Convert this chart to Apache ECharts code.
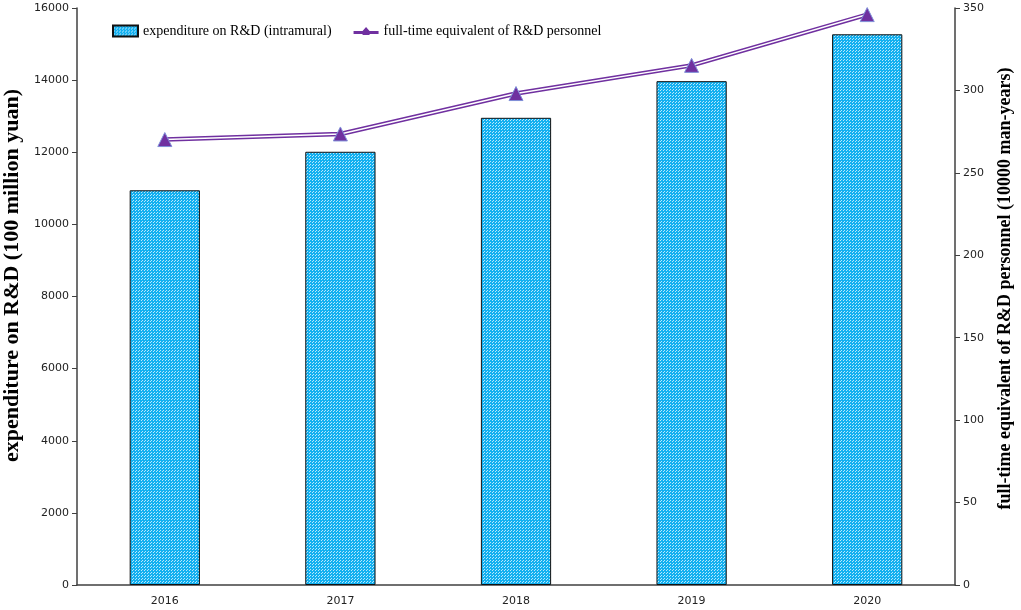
<!DOCTYPE html>
<html>
<head>
<meta charset="utf-8">
<script src="https://cdn.jsdelivr.net/npm/echarts@6/dist/echarts.min.js"></script>
<style>
  html, body { margin: 0; padding: 0; background: #fff; }
  #main { width: 1021px; height: 610px; }
</style>
</head>
<body>
<div id="main"></div>
<script>
var years = ['2016', '2017', '2018', '2019', '2020']
var expenditure = [10945, 12013, 12955, 13971, 15271]
var personnel = [270.2, 273.6, 298.1, 315.2, 346.0]
var leftTicks = { min: 0, max: 16000, interval: 2000 }
var rightTicks = { min: 0, max: 350, interval: 50 }

// dotted blue fill like the original bars
var makePattern = () => {
  var c = document.createElement('canvas')
  c.width = 3
  c.height = 3
  var ctx = c.getContext('2d')
  ctx.fillStyle = '#12b0f0'
  ctx.fillRect(0, 0, 3, 3)
  ctx.fillStyle = 'rgba(255,255,255,0.7)'
  ctx.fillRect(0, 0, 1, 1)
  ctx.fillRect(1, 2, 1, 1)
  return c
}

var purple = '#7030a0'
var axisColor = '#404040'
var labelFont = { color: '#222', fontFamily: 'DejaVu Sans', fontSize: 11, formatter: v => String(v) }

var chart = echarts.init(document.getElementById('main'))
chart.setOption({
  animation: false,
  grid: { left: 77, right: 66, top: 8, bottom: 25, containLabel: false, outerBoundsMode: 'none' },
  legend: {
    left: 107, top: 19, itemGap: 22, itemWidth: 25, itemHeight: 11,
    textStyle: { fontFamily: 'Liberation Serif', fontSize: 14, color: '#000' },
    data: [
      { name: 'expenditure on R&D (intramural)', icon: 'rect' },
      {
        name: 'full-time equivalent of R&D personnel',
        icon: 'path://M0,4 L9,4 L12.5,0 L16,4 L25,4 L25,7 L16,7 L16,8 L9,8 L9,7 L0,7 Z',
        itemStyle: { color: purple, borderColor: purple, borderWidth: 0 }
      }
    ]
  },
  xAxis: {
    type: 'category', data: years,
    axisLine: { lineStyle: { color: axisColor, width: 1.5 } },
    axisTick: { lineStyle: { color: axisColor }, length: 5 },
    axisLabel: Object.assign({}, labelFont, { margin: 11 })
  },
  yAxis: [
    {
      type: 'value', min: leftTicks.min, max: leftTicks.max, interval: leftTicks.interval,
      name: 'expenditure on R&D (100 million yuan)', nameLocation: 'middle', nameGap: 47,
      nameTextStyle: { color: '#000', fontFamily: 'Liberation Serif', fontSize: 22, fontWeight: 'bold', padding: [0, 0, 0, 42] },
      axisLine: { show: true, lineStyle: { color: axisColor, width: 1.5 } },
      axisTick: { show: true, length: 5, lineStyle: { color: axisColor } },
      axisLabel: labelFont,
      splitLine: { show: false }
    },
    {
      type: 'value', min: rightTicks.min, max: rightTicks.max, interval: rightTicks.interval,
      name: 'full-time equivalent of R&D personnel (10000 man-years)', nameLocation: 'middle', nameGap: 41,
      nameTextStyle: { color: '#000', fontFamily: 'Liberation Serif', fontSize: 18, fontWeight: 'bold', padding: [0, 0, 0, 16] },
      axisLine: { show: true, lineStyle: { color: axisColor, width: 1.5 } },
      axisTick: { show: true, length: 5, lineStyle: { color: axisColor } },
      axisLabel: labelFont,
      splitLine: { show: false }
    }
  ],
  series: [
    {
      name: 'expenditure on R&D (intramural)', type: 'bar', data: expenditure,
      barWidth: '40%',
      itemStyle: { color: { image: makePattern(), repeat: 'repeat' }, borderColor: '#111', borderWidth: 1 }
    },
    {
      name: '_outer', type: 'line', yAxisIndex: 1, data: personnel,
      symbol: 'none', z: 3,
      lineStyle: { color: purple, width: 4.5 }
    },
    {
      name: 'full-time equivalent of R&D personnel', type: 'line', yAxisIndex: 1, data: personnel,
      symbol: 'triangle', symbolSize: 14, z: 4,
      itemStyle: { color: purple, borderColor: '#7f8fd8', borderWidth: 1 },
      lineStyle: { color: '#fff', width: 1.5 }
    }
  ]
})
</script>
</body>
</html>
